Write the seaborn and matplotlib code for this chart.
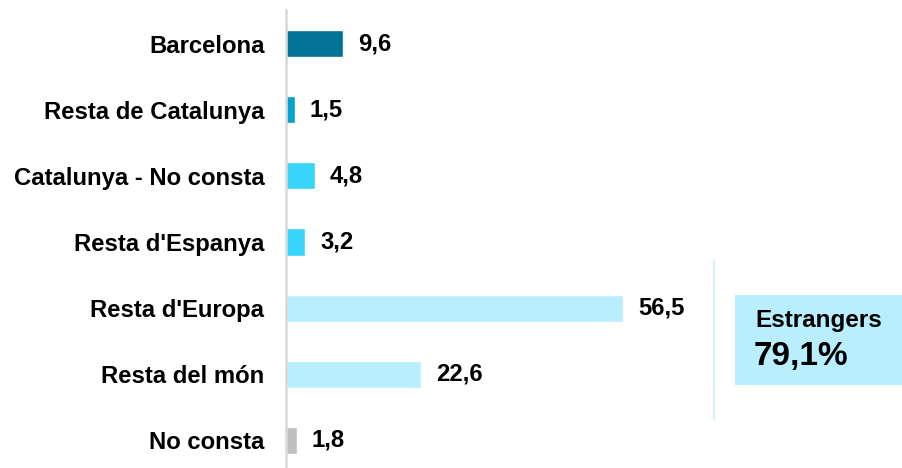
import pandas as pd
import numpy as np
import matplotlib.pyplot as plt
import seaborn as sns
from matplotlib.patches import Rectangle

categories = ['Barcelona', 'Resta de Catalunya', 'Catalunya - No consta', "Resta d'Espanya",
              "Resta d'Europa", 'Resta del món', 'No consta']
values = [9.6, 1.5, 4.8, 3.2, 56.5, 22.6, 1.8]
colors = ['#017394', '#04a3cf', '#38d5fb', '#38d5fb', '#b8eefd', '#b8eefd', '#c0c0c0']
box_title = 'Estrangers'
box_value = '79,1%'

df = pd.DataFrame({'cat': categories, 'val': values})

sns.set_style('white')
plt.rcParams['font.family'] = ['Liberation Sans', 'DejaVu Sans']
plt.rcParams['text.color'] = 'black'
plt.rcParams['ytick.color'] = 'black'

fig = plt.figure(figsize=(9.02, 4.68), dpi=100)
ax = fig.add_axes([286 / 902, 0, 616 / 902, 458 / 468])
sns.barplot(data=df, x='val', y='cat', hue='cat', palette=colors, orient='h',
            width=0.41, saturation=1, legend=False, ax=ax)

ax.set_xlim(0, 616 / 5.97)
ax.set_ylim(6.42, -0.51)
ax.set_xlabel('')
ax.set_ylabel('')
ax.set_xticks([])
for s in ['top', 'right', 'bottom']:
    ax.spines[s].set_visible(False)
ax.spines['left'].set_color('#d9d9d9')
ax.spines['left'].set_linewidth(1.8)
ax.tick_params(axis='y', length=0, pad=15.5)
for lab in ax.get_yticklabels():
    lab.set_fontweight('bold')
    lab.set_fontsize(17.2)

# value labels
for i, v in enumerate(values):
    ax.text(v + 2.5, i, f'{v:.1f}'.replace('.', ','), va='center', ha='left',
            fontsize=17.2, fontweight='bold')

# foreigners bracket and box
ax.plot([71.7, 71.7], [3.28, 5.70], color='#c8f2fd', lw=1.3, clip_on=False)
ax.add_patch(Rectangle((75.2, 3.80), 40, 1.37, facecolor='#b8eefd', edgecolor='none', clip_on=False))
ax.text(78.6, 4.19, box_title, va='center', ha='left', fontsize=17.5, fontweight='bold')
ax.text(78.4, 4.73, box_value, va='center', ha='left', fontsize=24, fontweight='bold')

fig.savefig('out.png', dpi=100)
